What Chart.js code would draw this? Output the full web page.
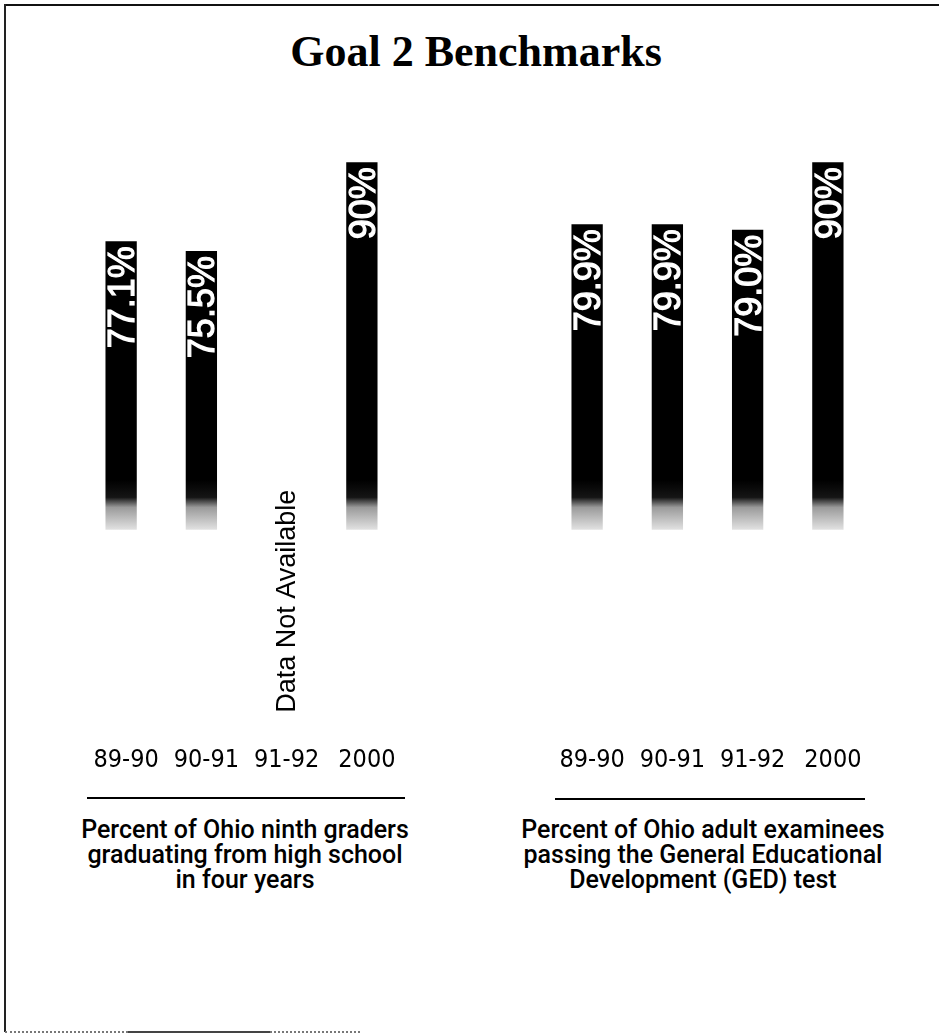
<!DOCTYPE html>
<html>
<head>
<meta charset="utf-8">
<title>Goal 2 Benchmarks</title>
<script src="https://cdn.jsdelivr.net/npm/chart.js@4.4.1/dist/chart.umd.min.js"></script>
<style>
  html, body { margin: 0; padding: 0; background: #fff; }
  body { width: 939px; height: 1036px; position: relative; overflow: hidden; }
  .frame-top { position: absolute; left: 5px; top: 4px; width: 934px; height: 2px; background: #111; }
  .frame-left { position: absolute; left: 4px; top: 4px; width: 2px; height: 1028px; background: #222; }
  .frame-bottom { position: absolute; left: 5px; top: 1031px; width: 355px; height: 0; border-top: 2px dotted #777; }
  .frame-bottom-solid { position: absolute; left: 128px; top: 1031px; width: 142px; height: 2px; background: #444; }
  h1 { position: absolute; left: 0; width: 952px; top: 29px; margin: 0; text-align: center;
       font: bold 44px/45px 'Liberation Serif', 'Times New Roman', serif; color: #000; }
  .chart { position: absolute; top: 130px; width: 400px; height: 680px; }
  .rule { position: absolute; height: 2px; background: #000; }
  .caption { position: absolute; top: 817px; width: 420px; text-align: center;
             font: 500 25px/25px Roboto, 'Liberation Sans', sans-serif; color: #000; }
</style>
</head>
<body>
<div class="frame-top"></div>
<div class="frame-left"></div>
<div class="frame-bottom"></div>
<div class="frame-bottom-solid"></div>

<h1>Goal 2 Benchmarks</h1>

<canvas id="gradChart" class="chart" width="400" height="680" style="left:40px"></canvas>
<canvas id="gedChart" class="chart" width="400" height="680" style="left:505px"></canvas>

<div class="rule" style="left:87px; top:797px; width:318px"></div>
<div class="rule" style="left:555px; top:798px; width:310px"></div>

<div class="caption" style="left:35px">Percent of Ohio ninth graders<br>graduating from high school<br>in four years</div>
<div class="caption" style="left:493px">Percent of Ohio adult examinees<br>passing the General Educational<br>Development (GED) test</div>

<script>
// school years shown under both panels
const years = ['89-90', '90-91', '91-92', '2000'];

// ninth graders graduating in four years (%), 91-92 not reported
const gradRates = [77.1, 75.5, null, 90];
const gradLabels = ['77.1%', '75.5%', null, '90%'];

// adults passing the GED test (%)
const gedRates = [79.9, 79.9, 79.0, 90];
const gedLabels = ['79.9%', '79.9%', '79.0%', '90%'];

// bars are cut off at 30% and the axis runs a little below that
const barBase = 30;
const axisMin = -3;
const axisMax = 92;

const missingText = 'Data Not Available';

// black bars that fade out to grey at the foot
function barFill(c) {
    const { ctx, chartArea, scales } = c.chart;
    if (!chartArea) return '#000';
    const foot = scales.y.getPixelForValue(barBase);
    const g = ctx.createLinearGradient(0, foot - 50, 0, foot);
    g.addColorStop(0, '#000');
    g.addColorStop(0.35, '#151515');
    g.addColorStop(0.55, '#9a9a9a');
    g.addColorStop(1, '#e2e2e2');
    return g;
}

// rotated value labels inside the bars, plus the note for missing years
const barText = {
    id: 'barText',
    afterDatasetsDraw(chart, args, opts) {
        const ctx = chart.ctx;
        const meta = chart.getDatasetMeta(0);
        const xScale = chart.scales.x;
        const foot = chart.scales.y.getPixelForValue(barBase);
        chart.data.datasets[0].data.forEach((v, i) => {
            ctx.save();
            if (v === null) {
                ctx.translate(xScale.getPixelForValue(i) + 13, foot + 183);
                ctx.rotate(-Math.PI / 2);
                ctx.font = "27px 'Liberation Sans', Arial, sans-serif";
                ctx.fillStyle = '#000';
                ctx.textAlign = 'left';
                ctx.textBaseline = 'alphabetic';
                ctx.fillText(missingText, 0, 0);
            } else {
                const bar = meta.data[i];
                ctx.translate(bar.x + 13, bar.y + 5);
                ctx.rotate(-Math.PI / 2);
                ctx.font = "36px 'Liberation Sans', Arial, sans-serif";
                ctx.fillStyle = '#fff';
                ctx.strokeStyle = '#fff';
                ctx.lineWidth = 1.2;
                ctx.textAlign = 'right';
                ctx.textBaseline = 'alphabetic';
                ctx.fillText(opts.labels[i], 0, 0);
                ctx.strokeText(opts.labels[i], 0, 0);
            }
            ctx.restore();
        });
    }
};

function makeChart(id, values, labels, padLeft, padRight) {
    new Chart(document.getElementById(id), {
        type: 'bar',
        data: {
            labels: years,
            datasets: [{
                data: values,
                base: barBase,
                backgroundColor: barFill,
                borderWidth: 0,
                categoryPercentage: 1,
                barPercentage: 0.39
            }]
        },
        options: {
            responsive: false,
            animation: false,
            layout: { padding: { left: padLeft, right: padRight, top: 20, bottom: 30 } },
            plugins: {
                legend: { display: false },
                tooltip: { enabled: false },
                barText: { labels: labels }
            },
            scales: {
                x: {
                    grid: { display: false },
                    border: { display: false },
                    ticks: {
                        padding: 5,
                        labelOffset: 5,
                        color: '#000',
                        font: { family: "'Liberation Sans Narrow', 'DejaVu Sans Condensed', 'Liberation Sans', sans-serif", size: 25 }
                    }
                },
                y: {
                    display: false,
                    min: axisMin,
                    max: axisMax
                }
            }
        },
        plugins: [barText]
    });
}

makeChart('gradChart', gradRates, gradLabels, 41, 38);
makeChart('gedChart', gedRates, gedLabels, 42, 37);
</script>
</body>
</html>
